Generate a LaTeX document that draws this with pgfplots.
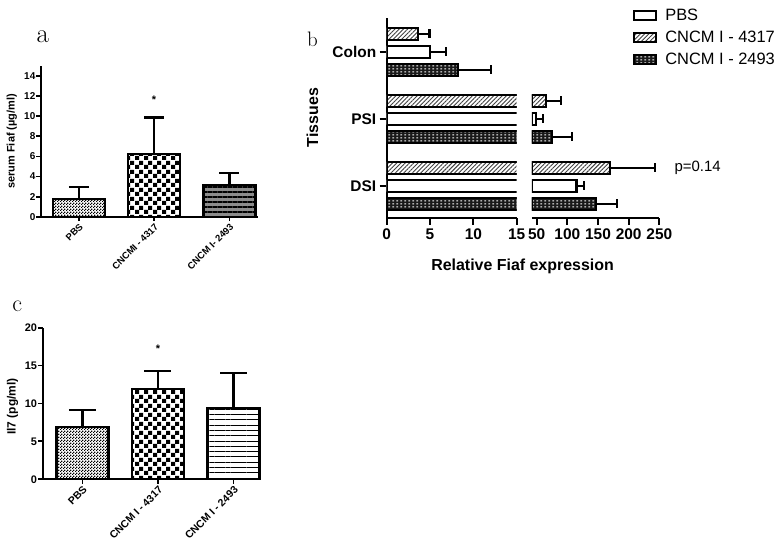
\documentclass[border=0pt]{standalone}
\usepackage{pgfplots}
\pgfplotsset{compat=1.18}
\usepackage{pgfplotstable}
\usetikzlibrary{patterns,patterns.meta}
\usepackage{fontspec}
\newfontfamily\arial{Liberation Sans}
\newcommand\fs[1]{\fontsize{#1}{#1}\selectfont}

\pgfdeclarepatternformonly{finecheck}{\pgfpoint{0bp}{0bp}}{\pgfpoint{3bp}{3bp}}{\pgfpoint{3bp}{3bp}}{%
  \pgfpathrectangle{\pgfpoint{0bp}{0bp}}{\pgfpoint{1.5bp}{1.5bp}}%
  \pgfpathrectangle{\pgfpoint{1.5bp}{1.5bp}}{\pgfpoint{1.5bp}{1.5bp}}%
  \pgfusepath{fill}}
\pgfdeclarepatternformonly{bigcheck}{\pgfpoint{0bp}{0bp}}{\pgfpoint{9bp}{9bp}}{\pgfpoint{9bp}{9bp}}{%
  \pgfpathrectangle{\pgfpoint{0bp}{0bp}}{\pgfpoint{4.5bp}{4.5bp}}%
  \pgfpathrectangle{\pgfpoint{4.5bp}{4.5bp}}{\pgfpoint{4.5bp}{4.5bp}}%
  \pgfusepath{fill}}
\pgfdeclarepatternformonly{dashes}{\pgfpoint{0bp}{0bp}}{\pgfpoint{4bp}{3bp}}{\pgfpoint{4bp}{3bp}}{%
  \pgfpathrectangle{\pgfpoint{0.5bp}{0.8bp}}{\pgfpoint{2bp}{1.2bp}}%
  \pgfusepath{fill}}

% panel b data: y position (0 = DSI, 1 = PSI, 2 = Colon; +-0.2687 = bar offset), value, error
\pgfplotstableread{
y x err
2 5.02 1.78
1 48.4 11.4
0 115 12.6
}\tblPBS
\pgfplotstableread{
y x err
2.2687 3.6 1.34
1.2687 65.2 24.4
0.2687 169.6 73.4
}\tblA
\pgfplotstableread{
y x err
1.7313 8.22 3.86
0.7313 74.5 33.5
-0.2687 146.7 33.8
}\tblB

\pgfplotsset{
  gp/.style={
    scale only axis,
    anchor=south west,
    axis x line*=bottom, axis y line*=left,
    axis line style={-, line width=1.8bp, black},
    tick align=outside,
    major tick length=4.5bp,
    tick style={line width=1.8bp, black},
    /pgf/number format/assume math mode=true,
  },
  vbar/.style={ybar, bar shift=0pt, draw=black, line width=2.2bp,
    error bars/y dir=plus, error bars/y explicit,
    error bars/error mark=|,
    error bars/error bar style={line width=2.2bp, black},
    error bars/error mark options={line width=2.2bp, mark size=#1, black}},
  hbar/.style={xbar, bar shift=0pt, draw=black, line width=2.2bp,
    error bars/x dir=plus, error bars/x explicit,
    error bars/error mark=|,
    error bars/error bar style={line width=2.2bp, black},
    error bars/error mark options={line width=2.2bp, mark size=4.5bp, black}},
}

\begin{document}
\begin{tikzpicture}
\path[use as bounding box] (0,0) rectangle (780bp,547bp);

% ---------------- panel a ----------------
\begin{axis}[gp,
  at={(41bp,330.3bp)}, width=217.2bp, height=150.7bp,
  xmin=-0.502, xmax=2.382, ymin=0, ymax=15,
  ytick={0,2,...,14}, xtick={0,1,2},
  xticklabels={PBS, CNCMI - 4317, CNCM I- 2493},
  bar width=52bp,
  yticklabel style={font=\arial\bfseries\fs{10}, inner sep=1bp},
  xticklabel style={font=\arial\bfseries\fs{9.5}, rotate=45, anchor=north east, inner sep=1bp},
  ylabel={serum Fiaf (µg/ml)},
  ylabel style={font=\arial\bfseries\fs{11}, at={(axis description cs:-0.134,0.5)}, anchor=center},
  clip=false,
]
\addplot[vbar=10bp, fill=white, postaction={pattern=finecheck}] coordinates {(0,1.75) +- (0,1.21)};
\addplot[vbar=10bp, fill=white, postaction={pattern=bigcheck}] coordinates {(1,6.26) +- (0,3.62)};
\addplot[vbar=10bp, fill=black!45, postaction={pattern={Lines[angle=0, distance=5bp, line width=2bp]}}] coordinates {(2,3.13) +- (0,1.22)};
\node[font=\arial\bfseries\fs{11}] at (axis cs:1,11.6) {*};
\end{axis}

% ---------------- panel c ----------------
\begin{axis}[gp,
  at={(42.7bp,67.7bp)}, width=217.3bp, height=151.6bp,
  xmin=-0.527, xmax=2.351, ymin=0, ymax=20,
  ytick={0,5,...,20}, xtick={0,1,2},
  xticklabels={PBS, CNCM I - 4317, CNCM I - 2493},
  bar width=52bp,
  yticklabel style={font=\arial\bfseries\fs{11}, inner sep=1bp},
  xticklabel style={font=\arial\bfseries\fs{10.5}, rotate=45, anchor=north east, inner sep=1bp},
  ylabel={Il7 (pg/ml)},
  ylabel style={font=\arial\bfseries\fs{12}, at={(axis description cs:-0.139,0.48)}, anchor=center},
  clip=false,
]
\addplot[vbar=13.5bp, fill=white, postaction={pattern=finecheck}] coordinates {(0,6.95) +- (0,2.19)};
\addplot[vbar=13.5bp, fill=white, postaction={pattern=bigcheck}] coordinates {(1,11.91) +- (0,2.42)};
\addplot[vbar=13.5bp, fill=white, postaction={pattern={Lines[angle=0, distance=5.3bp, line width=0.8bp]}}] coordinates {(2,9.36) +- (0,4.71)};
\node[font=\arial\bfseries\fs{11}] at (axis cs:1,17.2) {*};
\end{axis}

% ---------------- panel b, left segment ----------------
\begin{axis}[gp,
  at={(386.7bp,329bp)}, width=130bp, height=200bp,
  xmin=0, xmax=15, ymin=-0.482, ymax=2.503,
  xtick={0,5,10,15}, ytick={0,1,2}, yticklabels={DSI,PSI,Colon},
  major tick length=7bp,
  axis line style={-, line width=2.2bp, black},
  tick style={line width=2.2bp, black},
  bar width=12bp,
  clip marker paths=true,
  ticklabel style={font=\arial\bfseries\fs{15.5}},
  xlabel={Relative Fiaf expression},
  xlabel style={font=\arial\bfseries\fs{16}, at={(axis description cs:1.045,-0.2435)}, anchor=center},
  ylabel={Tissues},
  ylabel style={font=\arial\bfseries\fs{16}, at={(axis description cs:-0.571,0.5025)}, anchor=center},
  legend style={at={(axis description cs:1.903,1.069)}, anchor=north west, draw=none, fill=none,
    font=\arial\fs{16.5}, row sep=0pt, inner sep=0pt, nodes={inner sep=0pt}},
  legend cell align=left,
  legend image code/.code={%
    \pgfpathrectangle{\pgfpoint{0bp}{-11bp}}{\pgfpoint{31bp}{22bp}}\pgfusepath{use as bounding box}%
    \draw[#1, line width=2bp] (0bp,-4.5bp) rectangle (22bp,4.5bp);},
]
\addplot[hbar, fill=white] table[x=x, y=y, x error=err] {\tblPBS};
\addplot[hbar, fill=white, postaction={pattern={Lines[angle=45, distance=3bp, line width=0.9bp]}, pattern color=black!75}] table[x=x, y=y, x error=err] {\tblA};
\addplot[hbar, fill=black!90, postaction={pattern=dashes, pattern color=white}] table[x=x, y=y, x error=err] {\tblB};
\legend{PBS, CNCM I - 4317, CNCM I - 2493}
\end{axis}

% ---------------- panel b, right segment ----------------
\begin{axis}[gp,
  at={(531.8bp,329bp)}, width=127.5bp, height=200bp,
  xmin=42, xmax=250, ymin=-0.482, ymax=2.503,
  axis y line=none, ytick=\empty,
  xtick={50,100,...,250},
  major tick length=7bp,
  axis line style={-, line width=2.2bp, black},
  tick style={line width=2.2bp, black},
  bar width=12bp,
  clip marker paths=true,
  restrict x to domain=42:400,
  ticklabel style={font=\arial\bfseries\fs{15.5}},
]
\addplot[hbar, fill=white] table[x=x, y=y, x error=err] {\tblPBS};
\addplot[hbar, fill=white, postaction={pattern={Lines[angle=45, distance=3bp, line width=0.9bp]}, pattern color=black!75}] table[x=x, y=y, x error=err] {\tblA};
\addplot[hbar, fill=black!90, postaction={pattern=dashes, pattern color=white}] table[x=x, y=y, x error=err] {\tblB};
\end{axis}

\node[anchor=west, font=\arial\fs{15}] at (671bp,379bp) {p=0.14};

% panel letters
\node[anchor=base, font=\fs{27}] at (42.7bp,504.3bp) {a};
\node[anchor=base, font=\fs{21}] at (312.5bp,500.3bp) {b};
\node[anchor=base, font=\fs{24}] at (17.2bp,235.3bp) {c};
\end{tikzpicture}
\end{document}
